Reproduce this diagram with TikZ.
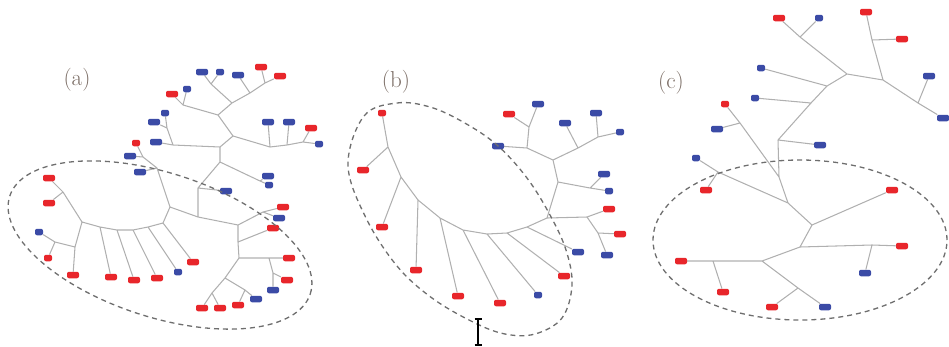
\documentclass[tikz,border=0pt]{standalone}
\usetikzlibrary{backgrounds}
\definecolor{lfred}{HTML}{E8262B}
\definecolor{lfblue}{HTML}{3B4BA6}
\definecolor{edgec}{HTML}{B0B0B0}
\definecolor{ellc}{HTML}{6E6E6E}
\definecolor{labc}{HTML}{7A6C64}
\tikzset{
 leaf/.style={rounded corners=2pt, inner sep=0pt, minimum width=12pt, minimum height=6.5pt},
 rl/.style={leaf, fill=lfred},
 bl/.style={leaf, fill=lfblue},
 sm/.style={minimum width=8pt},
 br/.style={draw=edgec, line width=1.05pt},
 ell/.style={draw=ellc, dash pattern=on 5pt off 4pt, line width=1.3pt},
 lab/.style={text=labc, font=\fontsize{23}{25}\selectfont, inner sep=0pt}
}
\begin{document}
\begin{tikzpicture}[x=1pt,y=-1pt]
\useasboundingbox (0,0) rectangle (949,346);
% labels
\node[lab] (la) at (77,80) {(a)};
\node[lab] (lb) at (396,82) {(b)};
\node[lab] (lc) at (671,83) {(c)};
% ================= panel (a) leaves
\node[bl] (a1) at (202,72) {};
\node[bl,sm] (a2) at (220,72) {};
\node[bl] (a3) at (238,75) {};
\node[rl] (a4) at (261,67) {};
\node[rl] (a5) at (280,76) {};
\node[rl] (a6) at (172,94) {};
\node[bl,sm] (a7) at (187,89) {};
\node[bl,sm] (a8) at (165,113) {};
\node[bl] (a9) at (154,122) {};
\node[bl] (a10) at (268,122) {};
\node[bl] (a11) at (289,122) {};
\node[rl] (a12) at (311,128) {};
\node[bl,sm] (a13) at (319,144) {};
\node[bl] (a14) at (156,142) {};
\node[rl,sm] (a15) at (136,143) {};
\node[bl] (a16) at (130,156) {};
\node[bl] (a17) at (140,172) {};
\node[bl] (a18) at (268,176) {};
\node[bl,sm] (a19) at (269,185) {};
\node[bl] (a20) at (226,191) {};
\node[rl] (a21) at (49,178) {};
\node[rl] (a22) at (49,203) {};
\node[bl,sm] (a23) at (39,232) {};
\node[rl,sm] (a24) at (48,258) {};
\node[rl] (a25) at (73,275) {};
\node[rl] (a26) at (111,277) {};
\node[rl] (a27) at (134,280) {};
\node[rl] (a28) at (157,278) {};
\node[bl,sm] (a29) at (178,272) {};
\node[rl] (a30) at (193,262) {};
\node[rl] (a31) at (283,207) {};
\node[bl] (a32) at (279,218) {};
\node[rl] (a33) at (273,228) {};
\node[rl] (a34) at (289,258) {};
\node[rl] (a35) at (287,280) {};
\node[bl] (a36) at (273,290) {};
\node[bl] (a37) at (256,299) {};
\node[rl] (a38) at (238,305) {};
\node[rl] (a39) at (220,308) {};
\node[rl] (a40) at (202,308) {};
% junctions (a)
\coordinate (j1) at (232,103);
\coordinate (j1a) at (211,84);
\coordinate (j1b) at (250,93);
\coordinate (j1c) at (265,83);
\coordinate (j2) at (218,115);
\coordinate (j2a) at (183,105);
\coordinate (j3) at (233,136);
\coordinate (j3a) at (270,147);
\coordinate (j3b) at (287,145);
\coordinate (j3c) at (303,142);
\coordinate (j4) at (220,147);
\coordinate (j4a) at (173,145);
\coordinate (j4b) at (167,128);
\coordinate (j5) at (220,162);
\coordinate (j5a) at (260,181);
\coordinate (j6) at (198,188);
\coordinate (j7) at (198,217);
\coordinate (j8) at (143,157);
\coordinate (j9) at (157,168);
\coordinate (j10) at (170,207);
\coordinate (j11) at (238,225);
\coordinate (j12) at (263,212);
\coordinate (j13) at (238,242);
\coordinate (j14) at (239,258);
\coordinate (j15) at (269,258);
\coordinate (j16) at (273,273);
\coordinate (j17) at (225,278);
\coordinate (j18) at (212,293);
\coordinate (j19) at (245,290);
\coordinate (j20) at (163,223);
\coordinate (j21) at (148,227);
\coordinate (j22) at (133,230);
\coordinate (j23) at (117,230);
\coordinate (j24) at (100,227);
\coordinate (j25) at (82,222);
\coordinate (j26) at (63,192);
\coordinate (j27) at (75,247);
\coordinate (j28) at (55,242);
% ================= panel (b) leaves
\node[rl,sm] (b1) at (382,113) {};
\node[rl] (b2) at (363,170) {};
\node[rl] (b3) at (382,227) {};
\node[rl] (b4) at (416,270) {};
\node[rl] (b5) at (458,296) {};
\node[rl] (b6) at (500,303) {};
\node[bl,sm] (b7) at (538,295) {};
\node[rl] (b8) at (564,276) {};
\node[bl] (b9) at (578,252) {};
\node[bl] (b10) at (607,255) {};
\node[rl] (b11) at (620,234) {};
\node[rl] (b12) at (609,209) {};
\node[rl] (b13) at (509,114) {};
\node[bl] (b14) at (538,104) {};
\node[bl] (b15) at (565,123) {};
\node[bl] (b16) at (596,113) {};
\node[bl,sm] (b17) at (620,132) {};
\node[bl] (b18) at (498,146) {};
\node[bl] (b19) at (604,174) {};
\node[bl,sm] (b20) at (609,191) {};
% junctions (b)
\coordinate (k1) at (388,147);
\coordinate (k2) at (401,177);
\coordinate (k4) at (418,200);
\coordinate (k5) at (440,218);
\coordinate (k6) at (463,230);
\coordinate (k7) at (487,234);
\coordinate (k8) at (507,233);
\coordinate (k9) at (527,227);
\coordinate (k10) at (547,218);
\coordinate (k11) at (587,217);
\coordinate (k12) at (598,233);
\coordinate (k14) at (558,182);
\coordinate (k15) at (590,188);
\coordinate (k16) at (553,160);
\coordinate (k17) at (527,148);
\coordinate (k18) at (529,127);
\coordinate (k19) at (578,148);
\coordinate (k20) at (598,137);
% ================= panel (c) leaves
\node[rl] (c1) at (779,18) {};
\node[bl,sm] (c2) at (819,18) {};
\node[rl] (c3) at (866,12) {};
\node[rl] (c4) at (902,39) {};
\node[bl,sm] (c5) at (761,68) {};
\node[bl,sm] (c6) at (755,98) {};
\node[bl] (c7) at (929,76) {};
\node[bl] (c8) at (943,118) {};
\node[rl,sm] (c9) at (725,104) {};
\node[bl] (c10) at (717,129) {};
\node[bl] (c11) at (820,145) {};
\node[bl,sm] (c12) at (696,158) {};
\node[rl] (c13) at (706,190) {};
\node[rl] (c14) at (892,190) {};
\node[rl] (c15) at (902,246) {};
\node[bl] (c16) at (865,273) {};
\node[rl] (c17) at (681,261) {};
\node[rl] (c18) at (723,292) {};
\node[rl] (c19) at (772,307) {};
\node[bl] (c20) at (825,307) {};
% junctions (c)
\coordinate (m1) at (800,37);
\coordinate (m2) at (847,74);
\coordinate (m3) at (872,40);
\coordinate (m4) at (883,80);
\coordinate (m5) at (918,103);
\coordinate (m6) at (827,86);
\coordinate (m7) at (811,103);
\coordinate (m8) at (778,140);
\coordinate (m9) at (740,123);
\coordinate (m10) at (779,177);
\coordinate (m11) at (788,203);
\coordinate (m12) at (718,172);
\coordinate (m13) at (812,225);
\coordinate (m14) at (800,247);
\coordinate (m15) at (872,245);
\coordinate (m16) at (762,261);
\coordinate (m17) at (713,261);
\coordinate (m18) at (798,288);
% ellipse centres
\coordinate (ea) at (160,245);
\coordinate (ec) at (800,240);
% cursor
\coordinate (ct) at (478,319);
\coordinate (cb) at (478,345);
\begin{scope}[on background layer]
% (a) edges
\draw[br] (a1) -- (j1a) (a2) -- (j1a) (j1a) -- (j1) (j1) -- (j1b) (a3) -- (j1b)
  (j1b) -- (j1c) (a4) -- (j1c) (a5) -- (j1c)
  (j1) -- (j2) (j2) -- (j2a) (a6) -- (j2a) (a7) -- (j2a)
  (j2) -- (j3) (j3) -- (j3a) (a10) -- (j3a) (j3a) -- (j3b) (a11) -- (j3b)
  (j3b) -- (j3c) (a12) -- (j3c) (a13) -- (j3c)
  (j3) -- (j4) (j4) -- (j4a) (a14) -- (j4a) (j4a) -- (j4b) (a8) -- (j4b) (a9) -- (j4b)
  (j4) -- (j5) (j5) -- (j5a) (a18) -- (j5a) (a19) -- (j5a)
  (j5) -- (j6) (a20) -- (j6) (j6) -- (j7)
  (a15) -- (j8) (a16) -- (j8) (j8) -- (j9) (a17) -- (j9) (j9) -- (j10)
  (j10) -- (j7) (j7) -- (j11) (j11) -- (j12) (a31) -- (j12) (a32) -- (j12)
  (j11) -- (j13) (a33) -- (j13) (j13) -- (j14) (j14) -- (j15) (a34) -- (j15)
  (j15) -- (j16) (a35) -- (j16) (a36) -- (j16)
  (j14) -- (j17) (j17) -- (j18) (a40) -- (j18) (a39) -- (j18)
  (j17) -- (j19) (a38) -- (j19) (a37) -- (j19)
  (j10) -- (j20) -- (j21) -- (j22) -- (j23) -- (j24) -- (j25)
  (j20) -- (a30) (j21) -- (a29) (j22) -- (a28) (j23) -- (a27) (j24) -- (a26)
  (j25) -- (j26) (a22) -- (j26) (j26) -- (a21)
  (j25) -- (j27) (j27) -- (a25) (j27) -- (j28) (a23) -- (j28) (a24) -- (j28);
% (b) edges
\draw[br] (b1) -- (k1) (b2) -- (k1) (k1) -- (k2) (k2) -- (b3) (k2) -- (k4) (k4) -- (b4)
  (k4) -- (k5) -- (k6) -- (k7) -- (k8) -- (k9) -- (k10) -- (k11)
  (k5) -- (b5) (k6) -- (b6) (k7) -- (b7) (k8) -- (b8) (k9) -- (b9)
  (k11) -- (b12) (k11) -- (k12) (k12) -- (b11) (k12) -- (b10)
  (k10) -- (k14) (k14) -- (k15) (k15) -- (b19) (k15) -- (b20)
  (k14) -- (k16) (k16) -- (k17) (k17) -- (b18) (k17) -- (k18) (k18) -- (b13) (k18) -- (b14)
  (k16) -- (k19) (k19) -- (b15) (k19) -- (k20) (k20) -- (b16) (k20) -- (b17);
% (c) edges
\draw[br] (c1) -- (m1) (c2) -- (m1) (m1) -- (m2) (c3) -- (m3) (c4) -- (m3) (m3) -- (m4)
  (m2) -- (m4) (m4) -- (m5) (m5) -- (c7) (m5) -- (c8)
  (m2) -- (m6) (m6) -- (c5) (m6) -- (m7) (m7) -- (c6) (m7) -- (m8) (m8) -- (c11)
  (c9) -- (m9) (c10) -- (m9) (m9) -- (m10) (m8) -- (m10) (m10) -- (m11)
  (c12) -- (m12) (c13) -- (m12) (m12) -- (m11) (m11) -- (m13) (m13) -- (c14)
  (m13) -- (m14) (m14) -- (m15) (m15) -- (c15) (m15) -- (c16)
  (m14) -- (m16) (m16) -- (m17) (m17) -- (c17) (m17) -- (c18)
  (m16) -- (m18) (m18) -- (c20) (m18) -- (c19);
\end{scope}
% ellipses
\draw[ell, rotate around={-18:(ea)}] (ea) ellipse [x radius=158pt, y radius=72pt];
\draw[ell] plot[smooth cycle, tension=0.6] coordinates {(364,116) (397,103) (430,107) (463,122) (497,145) (527,178) (550,215) (566,250) (572,285) (562,318) (535,334) (505,334) (473,322) (432,298) (397,266) (366,218) (348,165)};
\draw[ell] (ec) ellipse [x radius=147pt, y radius=80pt];
% text cursor
\draw[line width=1.6pt] (ct) -- (cb);
\draw[line width=1.2pt] ([xshift=-3.5pt]ct) -- ([xshift=3.5pt]ct) ([xshift=-3.5pt]cb) -- ([xshift=3.5pt]cb);
\end{tikzpicture}
\end{document}
